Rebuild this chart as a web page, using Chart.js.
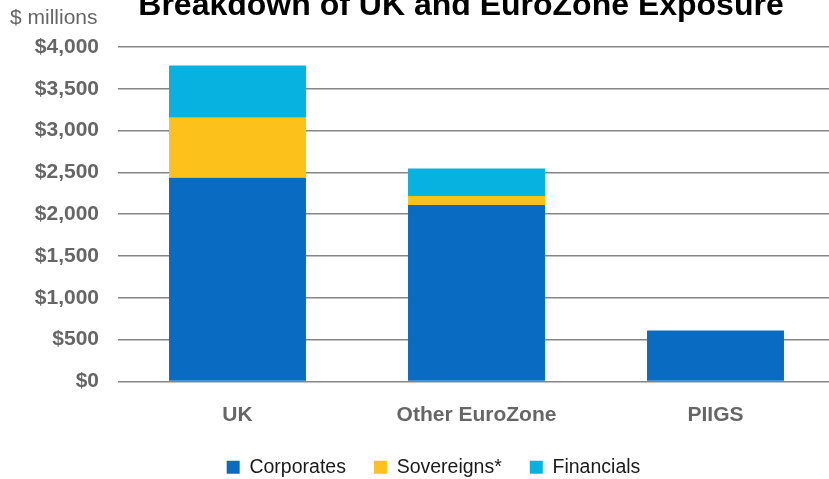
<!DOCTYPE html>
<html>
<head>
<meta charset="utf-8">
<script src="https://cdn.jsdelivr.net/npm/chart.js@4/dist/chart.umd.min.js"></script>
<style>
  html, body { margin: 0; padding: 0; background: #fff; overflow: hidden; }
  #wrap { position: relative; width: 835px; height: 479px; }
</style>
</head>
<body>
<div id="wrap"><canvas id="exposureChart"></canvas></div>
<script>
// Exposure by region, $ millions, stacked by counterparty type
const regions = ['UK', 'Other EuroZone', 'PIIGS'];
const corporates = [2435, 2110, 610];
const sovereigns = [720, 108, 0];
const financials = [625, 330, 0];
const yTicks = [0, 500, 1000, 1500, 2000, 2500, 3000, 3500, 4000];

const titleText = 'Breakdown of UK and EuroZone Exposure';
const unitText = '$ millions';

const blue = '#0a6bc2';
const gold = '#fdc11c';
const cyan = '#07b2e1';
const labelGray = '#666666';

// title and unit caption sit above the plot, partly clipped at the top edge
const headerText = {
  id: 'headerText',
  afterLayout(chart) {
    // legend sits a little right of the canvas centre
    chart.legend.left += 16;
    chart.legend.right += 16;
  },
  afterDraw(chart) {
    const ctx = chart.ctx;
    ctx.save();
    ctx.fillStyle = '#000';
    ctx.font = 'bold 32px "Liberation Sans", Arial, sans-serif';
    ctx.textAlign = 'center';
    ctx.textBaseline = 'alphabetic';
    ctx.fillText(titleText, 461, 15);
    ctx.fillStyle = labelGray;
    ctx.font = '21px "Liberation Sans", Arial, sans-serif';
    ctx.textAlign = 'left';
    ctx.fillText(unitText, 10, 24);
    ctx.restore();
  }
};

const money = (v) => '$' + v.toLocaleString('en-US');

new Chart(document.getElementById('exposureChart'), {
  type: 'bar',
  data: {
    labels: regions,
    datasets: [
      { label: 'Corporates', data: corporates, backgroundColor: blue },
      { label: 'Sovereigns*', data: sovereigns, backgroundColor: gold },
      { label: 'Financials', data: financials, backgroundColor: cyan }
    ]
  },
  options: {
    responsive: true,
    maintainAspectRatio: false,
    animation: false,
    layout: { padding: { top: 47, left: 0, right: 0, bottom: -8 } },
    datasets: {
      bar: { barPercentage: 0.573, categoryPercentage: 1, borderWidth: 0 }
    },
    plugins: {
      legend: {
        position: 'bottom',
        labels: {
          boxWidth: 13,
          boxHeight: 13,
          padding: 28,
          color: '#1a1a1a',
          font: { family: '"Liberation Sans", Arial, sans-serif', size: 19.5 }
        }
      },
      tooltip: { enabled: false }
    },
    scales: {
      x: {
        stacked: true,
        grid: { display: false },
        border: { display: false },
        ticks: {
          color: labelGray,
          padding: 13,
          font: { family: '"Liberation Sans", Arial, sans-serif', size: 21, weight: 'bold' }
        },
        afterFit(scale) { scale.height = 48; }
      },
      y: {
        stacked: true,
        min: 0,
        max: 4000,
        afterBuildTicks(scale) { scale.ticks = yTicks.map((v) => ({ value: v })); },
        grid: { color: '#858585', lineWidth: 1.6, drawTicks: false },
        border: { display: false },
        ticks: {
          color: labelGray,
          padding: 19,
          callback: (v) => money(v),
          font: { family: '"Liberation Sans", Arial, sans-serif', size: 21, weight: 'bold' }
        },
        afterFit(scale) { scale.width = 118; }
      }
    }
  },
  plugins: [headerText]
});
</script>
</body>
</html>
